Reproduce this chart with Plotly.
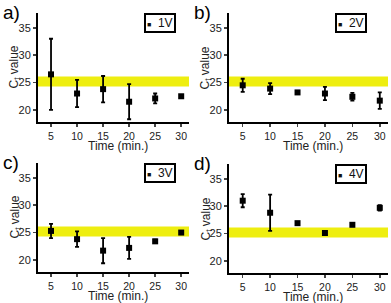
import plotly.graph_objects as go

time = [5, 10, 15, 20, 25, 30]
series_names = ["1V", "2V", "3V", "4V"]
panel_labels = ["a)", "b)", "c)", "d)"]
ct_1v = [26.5, 23.0, 23.8, 21.5, 22.1, 22.5]
err_1v = [6.5, 2.5, 2.4, 3.2, 0.9, 0.2]
ct_2v = [24.5, 23.9, 23.2, 23.0, 22.4, 21.7]
err_2v = [1.2, 1.0, 0.3, 1.2, 0.7, 1.5]
ct_3v = [25.3, 23.8, 21.7, 22.2, 23.4, 25.0]
err_3v = [1.3, 1.4, 2.3, 2.0, 0.3, 0.2]
ct_4v = [31.0, 28.8, 26.9, 25.1, 26.6, 29.7]
err_4v = [1.2, 3.3, 0.2, 0.2, 0.2, 0.5]
band_low, band_high = 24.3, 26.1
y_ticks = [20, 25, 30, 35]
x_ticks = [5, 10, 15, 20, 25, 30]

values = [ct_1v, ct_2v, ct_3v, ct_4v]
errors = [err_1v, err_2v, err_3v, err_4v]

W, H = 391, 303
# pixel boxes (left, right, top, bottom)
boxes = [(38, 189, 13, 122), (229, 388, 13, 122), (38, 189, 163, 272), (229, 388, 164, 273)]

fig = go.Figure()
font_family = "Liberation Sans, Arial, sans-serif"
layout = dict(width=W, height=H, margin=dict(l=0, r=0, t=0, b=0),
              plot_bgcolor="white", paper_bgcolor="white", showlegend=False,
              font=dict(family=font_family, color="#222"))
annotations = []
shapes = []
for i in range(4):
    l, r, t, b = boxes[i]
    xa = "xaxis" if i == 0 else f"xaxis{i+1}"
    ya = "yaxis" if i == 0 else f"yaxis{i+1}"
    xr = "x" if i == 0 else f"x{i+1}"
    yr = "y" if i == 0 else f"y{i+1}"
    layout[xa] = dict(domain=[l / W, r / W], range=[2.5, 31.5], anchor=yr,
                      tickvals=x_ticks, ticks="outside", ticklen=3, tickwidth=1.5,
                      showline=True, linecolor="black", linewidth=2, showgrid=False,
                      zeroline=False, tickfont=dict(size=10.5, color="#222"))
    layout[ya] = dict(domain=[1 - b / H, 1 - t / H], range=[17.8, 37.7], anchor=xr,
                      tickvals=y_ticks, ticks="outside", ticklen=3, tickwidth=1.5,
                      showline=True, linecolor="black", linewidth=2, showgrid=False,
                      zeroline=False, tickfont=dict(size=11, color="#222"))
    shapes.append(dict(type="rect", xref=xr, yref=yr, x0=2.5, x1=31.5,
                       y0=band_low, y1=band_high, fillcolor="#eeee10",
                       line=dict(width=0), layer="below"))
    fig.add_trace(go.Scatter(x=time, y=values[i], mode="markers", name=series_names[i],
                             xaxis=xr, yaxis=yr, hoverinfo="skip",
                             marker=dict(symbol="square", size=6, color="black"),
                             error_y=dict(type="data", array=errors[i], color="black",
                                          thickness=1.8, width=2)))
    # legend box
    annotations.append(dict(text="<span style='font-size:7px'>■</span>  " + series_names[i],
                            xref="paper", yref="paper",
                            x=(l + 106) / W, y=1 - t / H, xanchor="left", yanchor="top",
                            showarrow=False, bordercolor="black", borderwidth=2,
                            borderpad=1, bgcolor="white",
                            font=dict(size=12, color="#111")))
    annotations.append(dict(text=panel_labels[i], xref="paper", yref="paper",
                            x=(l - 37) / W, y=1 - (t - 13) / H, xanchor="left", yanchor="top",
                            showarrow=False, font=dict(size=19, color="black")))
    annotations.append(dict(text="C<sub>t</sub> value", xref="paper", yref="paper",
                            x=(l - 23) / W, y=1 - ((t + b) / 2) / H, xanchor="center",
                            yanchor="middle", textangle=-90, showarrow=False,
                            font=dict(size=12, color="#222")))
    annotations.append(dict(text="Time (min.)", xref="paper", yref="paper",
                            x=((l + r) / 2 + 4) / W, y=1 - (b + 15) / H, xanchor="center",
                            yanchor="top", showarrow=False, font=dict(size=12, color="#222")))

layout["annotations"] = annotations
layout["shapes"] = shapes
fig.update_layout(**layout)
fig.write_html("out.html", config={"displayModeBar": False, "staticPlot": True},
               post_script="document.body.style.margin='0px';")
